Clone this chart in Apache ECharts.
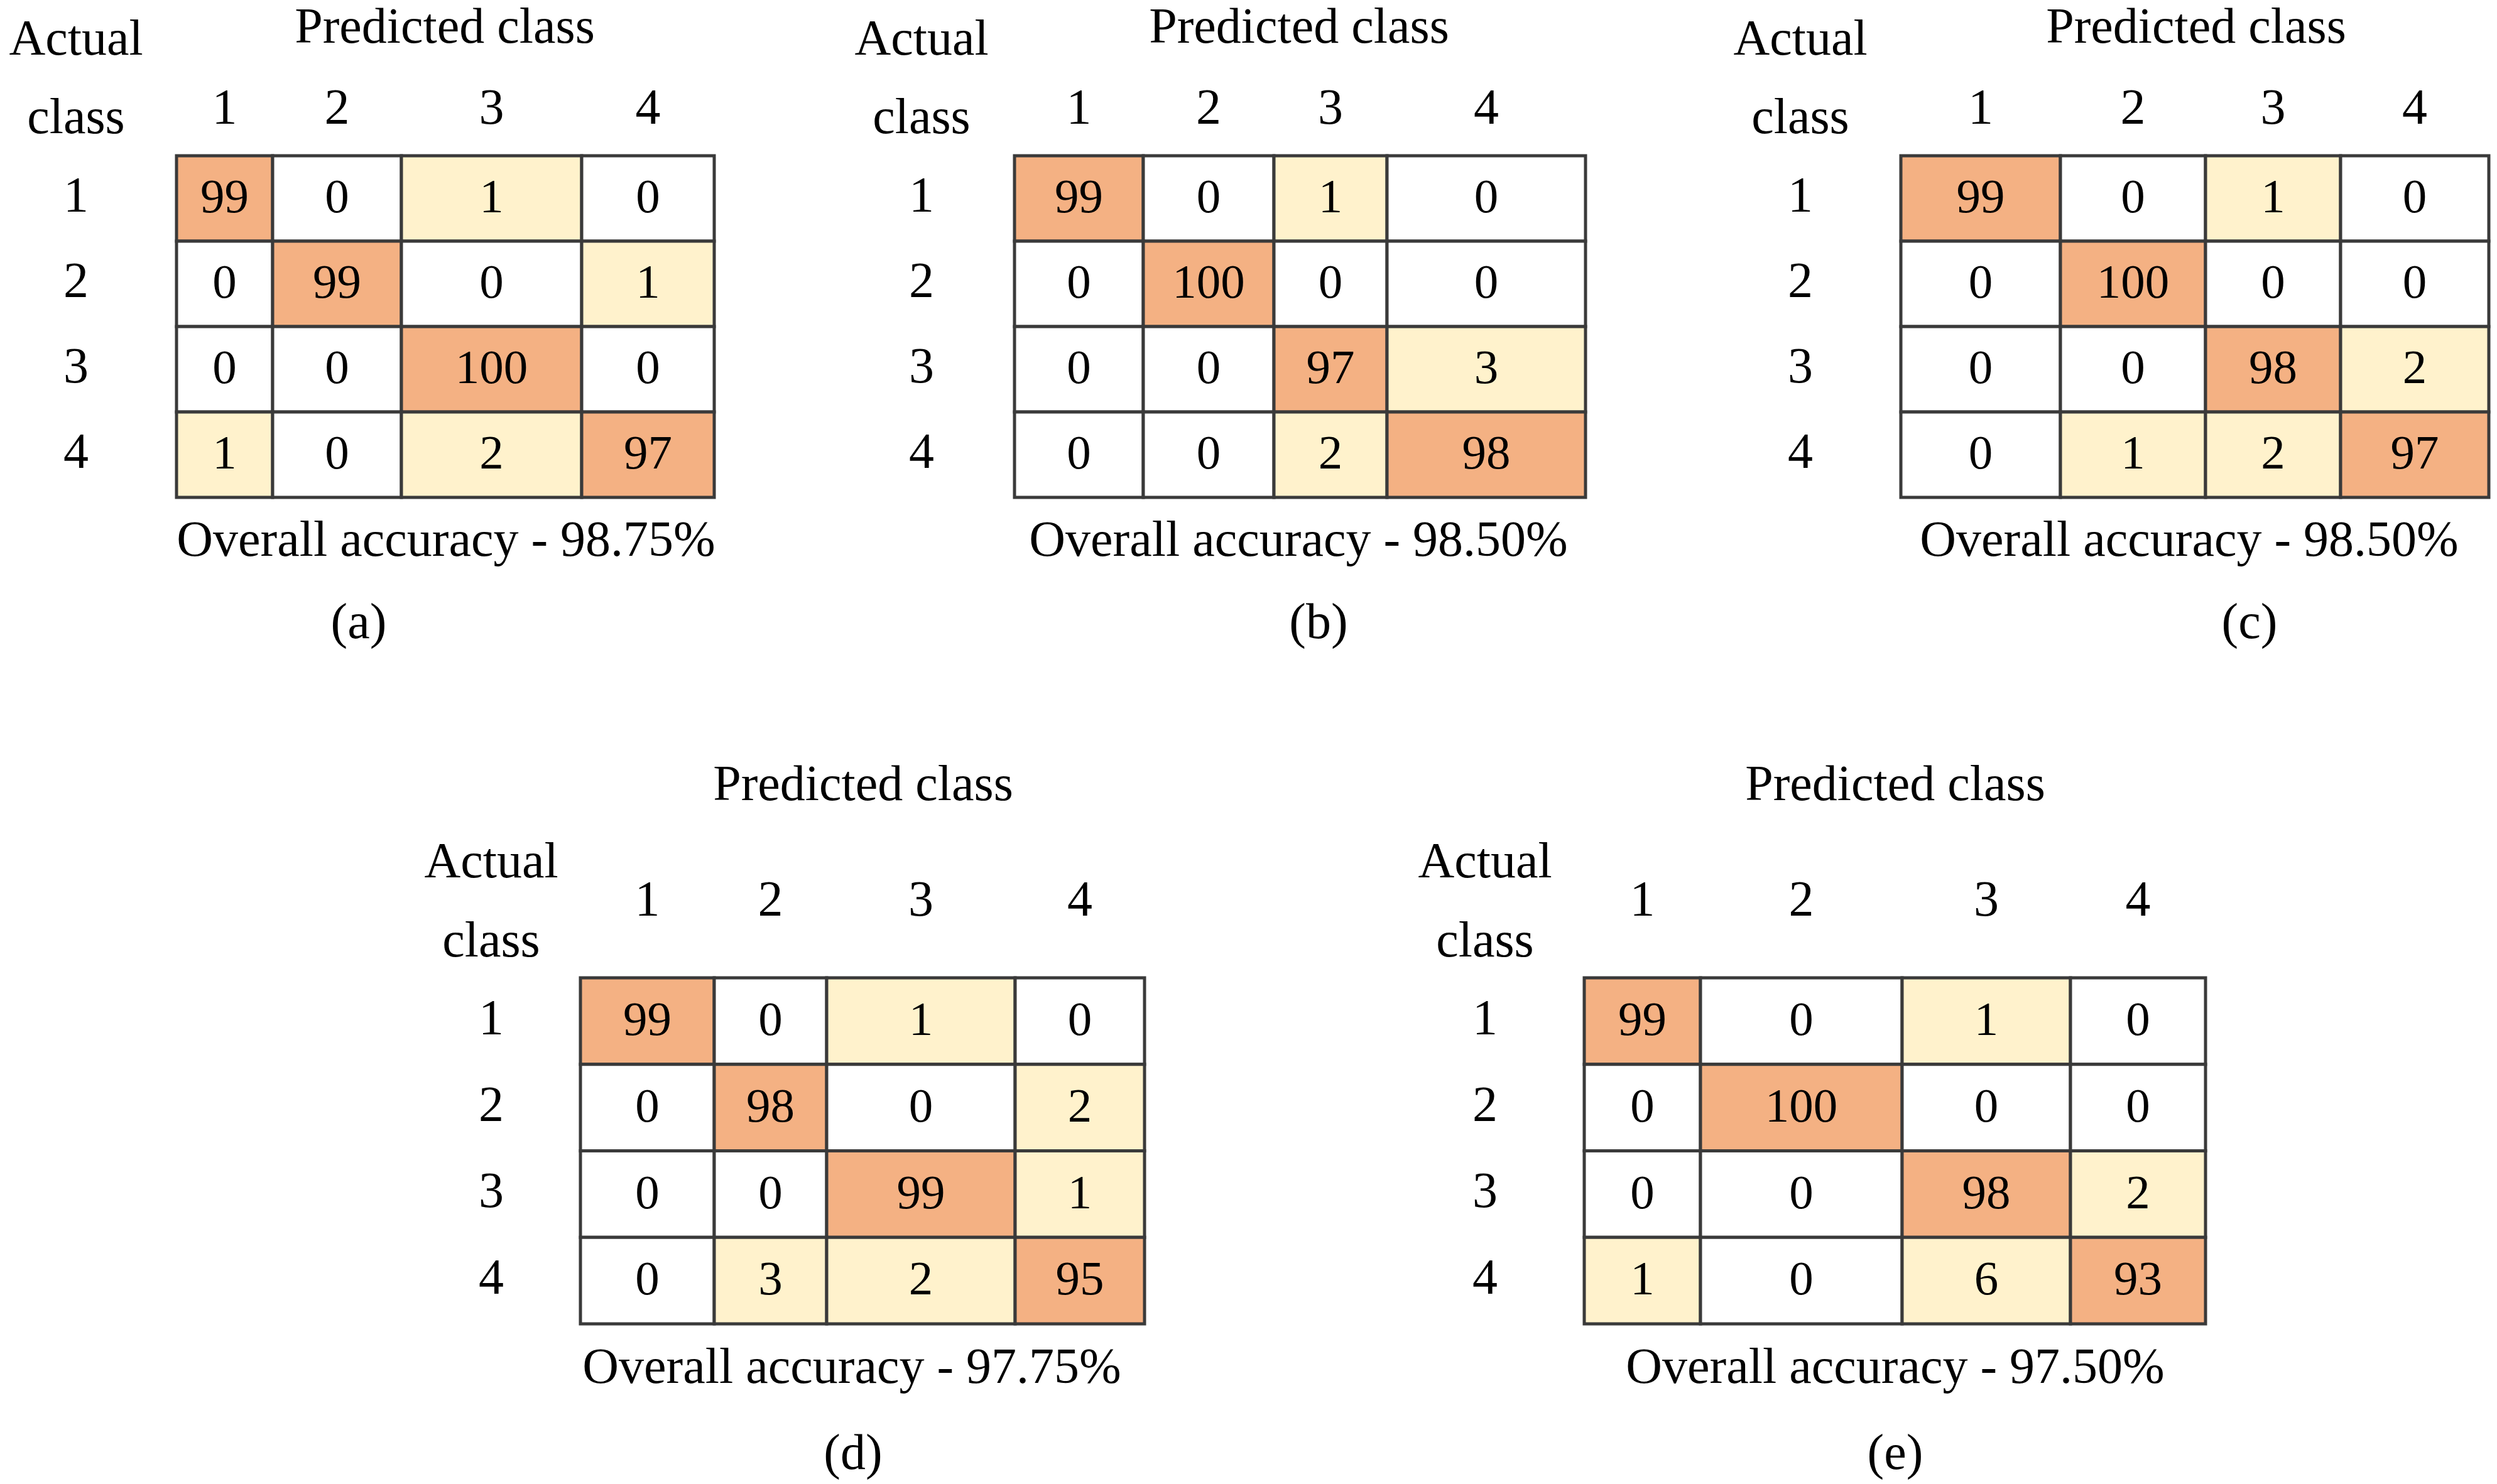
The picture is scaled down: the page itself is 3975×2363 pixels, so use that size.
<!DOCTYPE html>
<html>
<head>
<meta charset="utf-8">
<script src="https://cdn.jsdelivr.net/npm/echarts@6/dist/echarts.min.js"></script>
<style>
html,body{margin:0;padding:0;background:#fff;}
#chart{width:3975px;height:2363px;}
</style>
</head>
<body>
<div id="chart"></div>
<script>
// ---------------- DATA ----------------
const classLabels = ['1', '2', '3', '4'];
const matrixA = [[99, 0, 1, 0], [0, 99, 0, 1], [0, 0, 100, 0], [1, 0, 2, 97]];
const matrixB = [[99, 0, 1, 0], [0, 100, 0, 0], [0, 0, 97, 3], [0, 0, 2, 98]];
const matrixC = [[99, 0, 1, 0], [0, 100, 0, 0], [0, 0, 98, 2], [0, 1, 2, 97]];
const matrixD = [[99, 0, 1, 0], [0, 98, 0, 2], [0, 0, 99, 1], [0, 3, 2, 95]];
const matrixE = [[99, 0, 1, 0], [0, 100, 0, 0], [0, 0, 98, 2], [1, 0, 6, 93]];
const accuracyLabels = ['98.75%', '98.50%', '98.50%', '97.75%', '97.50%'];
const panelTags = ['(a)', '(b)', '(c)', '(d)', '(e)'];
const xAxisTitle = 'Predicted class';
const yAxisTitle = ['Actual', 'class'];
const accuracyPrefix = 'Overall accuracy - ';

// ---------------- LAYOUT (pixels) ----------------
const layouts = [
  {edges: [281, 434, 639, 926, 1137], top: 248, bottom: 792, actX: 121, actY: [66, 191], predX: 708, predY: 47, colY: 176, accX: 710, accY: 864, tagX: 571, tagY: 995},
  {edges: [1615, 1820, 2028, 2208, 2524], top: 248, bottom: 792, actX: 1467, actY: [66, 191], predX: 2068, predY: 47, colY: 176, accX: 2067, accY: 864, tagX: 2099, tagY: 995},
  {edges: [3026, 3280, 3511, 3726, 3962], top: 248, bottom: 792, actX: 2866, actY: [66, 191], predX: 3496, predY: 47, colY: 176, accX: 3485, accY: 864, tagX: 3581, tagY: 995},
  {edges: [924, 1137, 1316, 1616, 1822], top: 1557, bottom: 2108, actX: 782, actY: [1376, 1502], predX: 1374, predY: 1253, colY: 1437, accX: 1356, accY: 2181, tagX: 1358, tagY: 2318},
  {edges: [2522, 2707, 3028, 3296, 3511], top: 1557, bottom: 2108, actX: 2364, actY: [1376, 1502], predX: 3017, predY: 1253, colY: 1437, accX: 3017, accY: 2181, tagX: 3017, tagY: 2318}
];
const FONT = 'Liberation Serif';
const LABEL_SIZE = 80;
const CELL_SIZE = 77;
const ORANGE = '#F4B183';
const YELLOW = '#FFF2CC';
const BORDER = '#3a3a3a';

const matrices = [matrixA, matrixB, matrixC, matrixD, matrixE];

const grids = [], xAxes = [], yAxes = [], series = [], graphics = [];

matrices.forEach((mat, p) => {
  const L = layouts[p];
  const e0 = L.edges[0], eN = L.edges[L.edges.length - 1];
  const frac = L.edges.map(e => (e - e0) / (eN - e0));
  const centers = classLabels.map((_, i) => (frac[i] + frac[i + 1]) / 2);

  grids.push({left: e0, top: L.top, width: eN - e0, height: L.bottom - L.top, containLabel: false});
  xAxes.push({
    gridIndex: p, type: 'value', min: 0, max: 1, position: 'top',
    axisLine: {show: false}, axisTick: {show: false}, splitLine: {show: false},
    axisLabel: {
      customValues: centers,
      formatter: function (v) {
        let best = 0, bd = 1e9;
        centers.forEach((c, i) => { const d = Math.abs(c - v); if (d < bd) { bd = d; best = i; } });
        return classLabels[best];
      },
      verticalAlign: 'middle', margin: L.top - L.colY,
      fontFamily: FONT, fontSize: LABEL_SIZE, color: '#000'
    }
  });
  yAxes.push({
    gridIndex: p, type: 'category', data: classLabels, inverse: true,
    axisLine: {show: false}, axisTick: {show: false}, splitLine: {show: false},
    axisLabel: {align: 'center', margin: e0 - L.actX, fontFamily: FONT, fontSize: LABEL_SIZE, color: '#000'}
  });

  const data = [];
  mat.forEach((row, r) => row.forEach((v, c) => data.push([c, r, v])));

  series.push({
    type: 'custom', xAxisIndex: p, yAxisIndex: p, data: data, silent: true,
    renderItem: function (params, api) {
      const c = api.value(0), r = api.value(1), v = api.value(2);
      const a = api.coord([frac[c], r]);
      const b = api.coord([frac[c + 1], r]);
      const h = api.size([0, 1])[1];
      const fill = v === 0 ? '#ffffff' : (c === r ? ORANGE : YELLOW);
      return {
        type: 'group',
        children: [
          {type: 'rect', shape: {x: a[0], y: a[1] - h / 2, width: b[0] - a[0], height: h},
           style: {fill: fill, stroke: BORDER, lineWidth: 5}},
          {type: 'text', x: (a[0] + b[0]) / 2, y: a[1] + 2,
           style: {text: String(v), align: 'center', verticalAlign: 'middle',
                   fontFamily: FONT, fontSize: CELL_SIZE, fill: '#000'}}
        ]
      };
    }
  });

  const txt = (x, y, s) => graphics.push({
    type: 'text', x: x, y: y,
    style: {text: s, align: 'center', verticalAlign: 'middle', fontFamily: FONT, fontSize: LABEL_SIZE, fill: '#000'}
  });
  txt(L.predX, L.predY, xAxisTitle);
  txt(L.actX, L.actY[0], yAxisTitle[0]);
  txt(L.actX, L.actY[1], yAxisTitle[1]);
  txt(L.accX, L.accY, accuracyPrefix + accuracyLabels[p]);
  txt(L.tagX, L.tagY, panelTags[p]);
});

const chart = echarts.init(document.getElementById('chart'));
chart.setOption({
  backgroundColor: '#ffffff',
  animation: false,
  grid: grids,
  xAxis: xAxes,
  yAxis: yAxes,
  series: series,
  graphic: graphics
});
</script>
</body>
</html>
